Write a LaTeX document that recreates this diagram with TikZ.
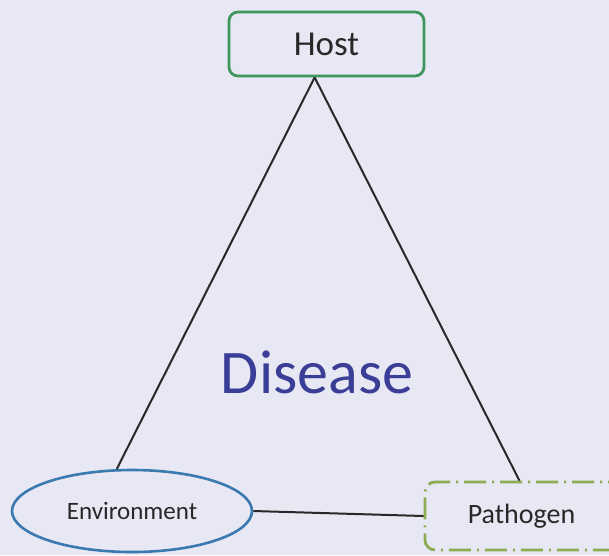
\documentclass[tikz,border=0pt]{standalone}
\usepackage{fontspec}
\setmainfont{Carlito}
\usetikzlibrary{calc,shapes.geometric}

\definecolor{bgpaper}{RGB}{232,232,245}
\definecolor{hostgreen}{RGB}{62,150,92}
\definecolor{envblue}{RGB}{58,122,176}
\definecolor{pathgreen}{RGB}{140,172,82}
\definecolor{diseaseblue}{RGB}{58,62,150}
\definecolor{inkgray}{RGB}{40,40,40}

\tikzset{
	hostbox/.style={draw=hostgreen, line width=2.8pt, rounded corners=9pt, minimum width=195pt, minimum height=64pt, text=inkgray, font=\fontsize{35}{40}\selectfont},
	envoval/.style={draw=envblue, ellipse, line width=2.6pt, minimum width=240pt, minimum height=82pt, inner sep=0pt, text=inkgray, font=\fontsize{25}{30}\selectfont},
	pathbox/.style={draw=pathgreen, line width=2.8pt, rounded corners=10pt, dash pattern=on 22pt off 6pt on 2pt off 6pt, minimum width=215pt, minimum height=68pt, text=inkgray, font=\fontsize{28}{34}\selectfont},
	link/.style={draw=inkgray, line width=2pt}
}

\begin{document}
\begin{tikzpicture}[x=1pt, y=-1pt]
		%%%%% START %%%%%
		
		\fill[bgpaper] (0, 0) rectangle (609, 555);
		\clip (0, 0) rectangle (609, 555);
		
		\node[hostbox] (host) at (326.5, 44) {Host};
		\node[envoval] (env) at (132, 511) {Environment};
		\node[pathbox] (path) at (532.5, 516) {\hspace*{-22pt}Pathogen};
		\node[text=diseaseblue, font=\fontsize{62}{70}\selectfont] (disease) at (317, 372) {Disease};
		
		\coordinate (apex) at ($(host.south west)!0.44!(host.south east)$);
		\coordinate (pathtop) at ($(path.north west)!0.44!(path.north east)$);
		
		\draw[link] (apex) -- (env.110);
		\draw[link] (apex) -- (pathtop);
		\draw[link] (env.east) -- (path.west);
		
		%%%%% END %%%%%
	\end{tikzpicture}
\end{document}
